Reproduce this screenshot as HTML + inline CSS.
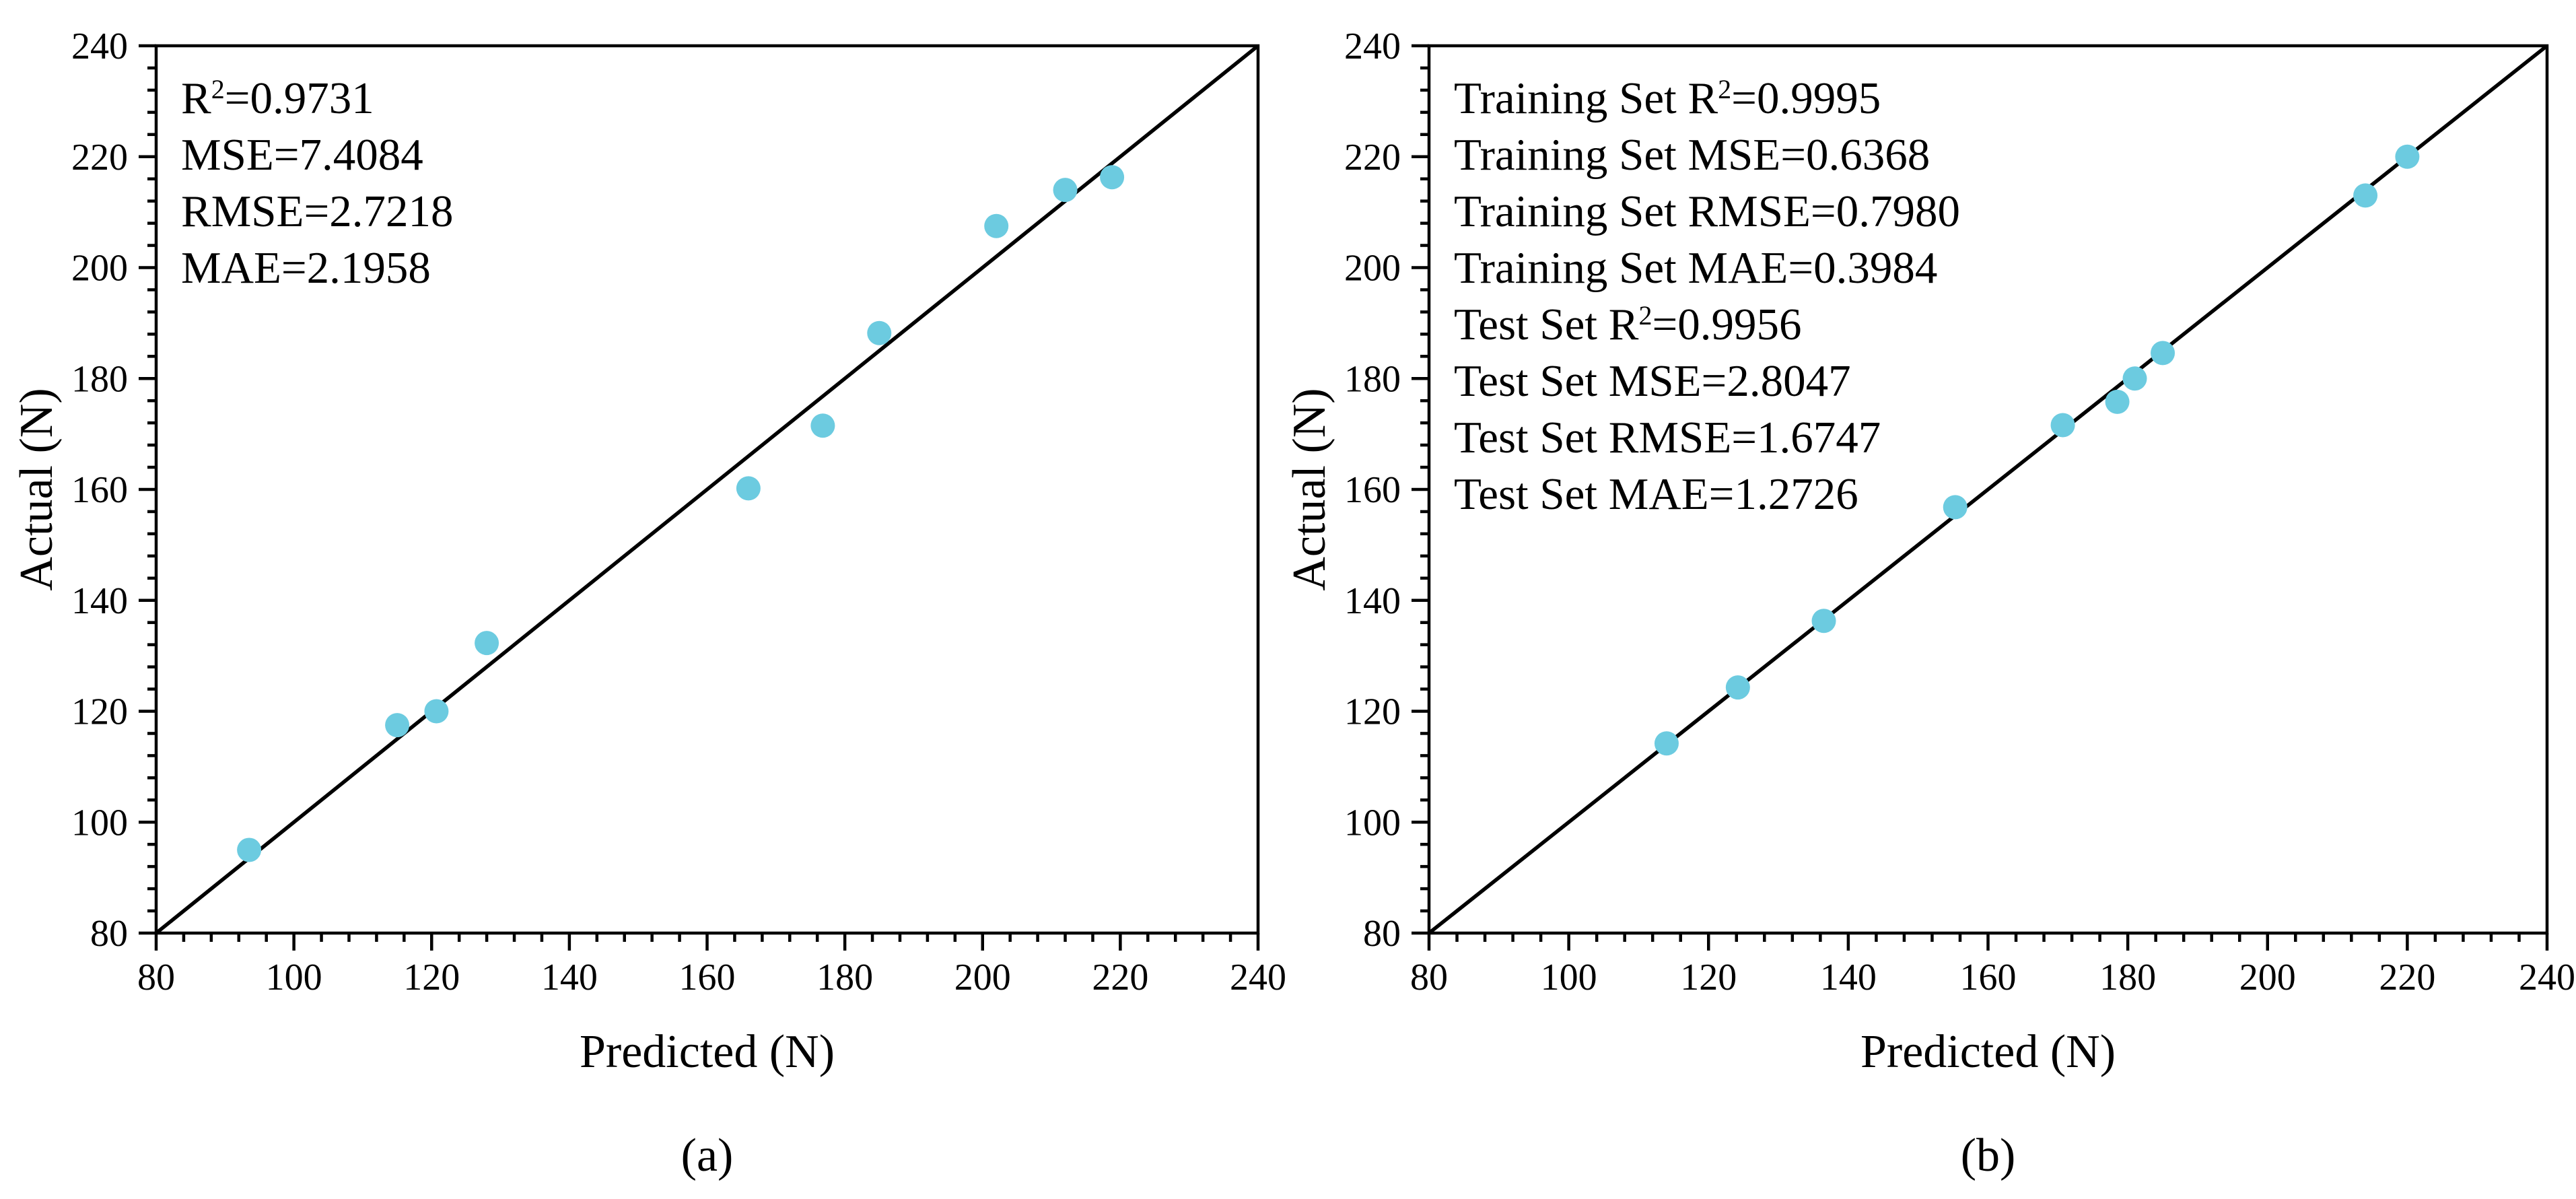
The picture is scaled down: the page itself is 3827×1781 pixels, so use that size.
<!DOCTYPE html>
<html><head><meta charset="utf-8"><style>
html,body{margin:0;padding:0;background:#fff;}
svg{display:block;font-family:"Liberation Serif",serif;}
</style></head><body>
<svg id="s" width="3827" height="1781" viewBox="0 0 3827 1781"></svg>
<script>
const ticks=[80,100,120,140,160,180,200,220,240];
const aPred=[93.5,115,120.7,128,166,176.8,185,202,212,218.8];
const aAct=[95,117.5,120,132.3,160.2,171.5,188.2,207.5,214,216.3];
const bPred=[114,124.2,136.5,155.3,170.7,178.5,181,185,214,220];
const bAct=[114.2,124.3,136.3,156.8,171.6,175.8,180,184.6,213,220];
const aStats=["R<tspan baseline-shift='super' font-size='40'>2</tspan>=0.9731","MSE=7.4084","RMSE=2.7218","MAE=2.1958"];
const bStats=["Training Set R<tspan baseline-shift='super' font-size='40'>2</tspan>=0.9995","Training Set MSE=0.6368","Training Set RMSE=0.7980","Training Set MAE=0.3984","Test Set R<tspan baseline-shift='super' font-size='40'>2</tspan>=0.9956","Test Set MSE=2.8047","Test Set RMSE=1.6747","Test Set MAE=1.2726"];
const NS="http://www.w3.org/2000/svg";
const svg=document.getElementById('s');
function el(t,a,p){const e=document.createElementNS(NS,t);for(const k in a)e.setAttribute(k,a[k]);(p||svg).appendChild(e);return e;}
function panel(L,R,T,B,px,py,stats,lab,key){
  const g=el('g',{});
  
  
  const sx=v=>L+(v-80)/160*(R-L), sy=v=>B-(v-80)/160*(B-T);
  for(let v=80;v<=240;v+=4){
    const maj=(v%20===0), len=maj?26:13;
    el('line',{x1:sx(v),x2:sx(v),y1:B,y2:B+len,stroke:'#000','stroke-width':4.5},g);
    el('line',{x1:L,x2:L-len,y1:sy(v),y2:sy(v),stroke:'#000','stroke-width':4.5},g);
  }
  ticks.forEach(v=>{
    const t=el('text',{x:sx(v),y:1470,'font-size':56,'text-anchor':'middle'},g);t.textContent=v;
    
    
    const u=el('text',{x:L-42,y:sy(v)+19,'font-size':56,'text-anchor':'end'},g);u.textContent=v;
    
    
  });
  const ref=el('line',{x1:sx(80),y1:sy(80),x2:sx(240),y2:sy(240),stroke:'#000','stroke-width':5.5},g);
  
  
  px.forEach((p,i)=>{
    const c=el('circle',{cx:sx(p),cy:sy(py[i]),r:18,fill:'#6ccbe0'},g);
    
    
  });
  const f=el('rect',{x:L,y:T,width:R-L,height:B-T,fill:'none',stroke:'#000','stroke-width':4.5},g);
  
  
  stats.forEach((s,i)=>{
    const t=el('text',{x:L+37,y:168+84*i,'font-size':67},g);t.innerHTML=s;
    
    
  });
  const cx=(L+R)/2;
  const xt=el('text',{x:cx,y:1585,'font-size':70,'text-anchor':'middle'},g);xt.textContent='Predicted (N)';
  
  
  const yx=L-155, yy=(T+B)/2;
  const yt=el('text',{x:yx,y:yy,'font-size':70,'text-anchor':'middle',transform:`rotate(-90 ${yx} ${yy})`},g);yt.textContent='Actual (N)';
  
  
  const pl=el('text',{x:cx,y:1739,'font-size':70,'text-anchor':'middle'},g);pl.textContent=lab;
  
  
}
panel(232,1869,68,1386,aPred,aAct,aStats,'(a)','a');
panel(2123,3784,68,1386,bPred,bAct,bStats,'(b)','b');
</script>
</body></html>
